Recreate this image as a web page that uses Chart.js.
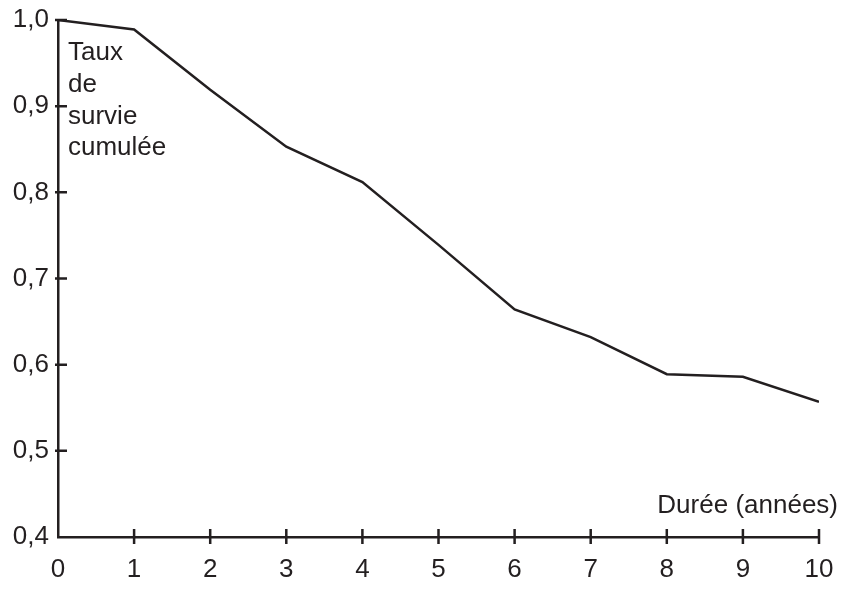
<!DOCTYPE html>
<html>
<head>
<meta charset="utf-8">
<script src="https://cdn.jsdelivr.net/npm/chart.js@4"></script>
<style>
  html, body { margin: 0; padding: 0; background: #fff; }
  #wrap { width: 854px; height: 591px; }
</style>
</head>
<body>
<div id="wrap"><canvas id="chart"></canvas></div>
<script>
const years = [0, 1, 2, 3, 4, 5, 6, 7, 8, 9, 10];
const survival = [1.0, 0.989, 0.919, 0.853, 0.812, 0.739, 0.664, 0.632, 0.589, 0.586, 0.557];
const yTicks = [0.4, 0.5, 0.6, 0.7, 0.8, 0.9, 1.0];
const yTitle = ['Taux', 'de', 'survie', 'cumulée'];
const xTitle = 'Durée (années)';

const ink = '#231f20';
const font = '"Liberation Sans", Arial, Helvetica, sans-serif';

// tick marks: y ticks stick into the plot, x ticks cross the axis
const tickMarks = {
  id: 'tickMarks',
  afterDraw(chart) {
    const ctx = chart.ctx;
    const x = chart.scales.x, y = chart.scales.y;
    ctx.save();
    ctx.strokeStyle = ink;
    ctx.lineWidth = 2.5;
    ctx.beginPath();
    yTicks.forEach(v => {
      if (v === 0.4) return;
      const py = y.getPixelForValue(v);
      ctx.moveTo(x.left - 3, py);
      ctx.lineTo(x.left + 9, py);
    });
    years.forEach(v => {
      if (v === 0) return;
      const px = x.getPixelForValue(v);
      ctx.moveTo(px, y.bottom - 8);
      ctx.lineTo(px, y.bottom + 7);
    });
    ctx.stroke();

    ctx.fillStyle = ink;
    ctx.font = '26px ' + font;
    ctx.textAlign = 'left';
    ctx.textBaseline = 'alphabetic';
    yTitle.forEach((t, i) => ctx.fillText(t, x.left + 10, 60 + i * 31.8));
    ctx.textAlign = 'right';
    ctx.fillText(xTitle, x.right + 19, 513);
    ctx.restore();
  }
};

new Chart(document.getElementById('chart'), {
  type: 'line',
  data: {
    datasets: [{
      data: years.map((yr, i) => ({ x: yr, y: survival[i] })),
      borderColor: ink,
      borderWidth: 2.5,
      pointRadius: 0,
      tension: 0,
      fill: false
    }]
  },
  options: {
    responsive: true,
    maintainAspectRatio: false,
    animation: false,
    layout: { padding: { top: 20, right: 35, bottom: 0, left: 0 } },
    plugins: { legend: { display: false }, tooltip: { enabled: false } },
    scales: {
      x: {
        type: 'linear',
        min: 0,
        max: 10,
        afterFit: s => { s.height = 54; s.paddingLeft = 0; s.paddingRight = 0; },
        afterBuildTicks: s => { s.ticks = years.map(v => ({ value: v })); },
        grid: { display: false, drawTicks: false },
        border: { display: true, color: ink, width: 2.5 },
        ticks: {
          color: ink,
          padding: 17,
          maxRotation: 0,
          font: { family: font, size: 26 },
          callback: v => String(v)
        }
      },
      y: {
        min: 0.4,
        max: 1.0,
        afterFit: s => { s.width = 58; s.paddingTop = 0; s.paddingBottom = 0; },
        afterBuildTicks: s => { s.ticks = yTicks.map(v => ({ value: v })); },
        grid: { display: false, drawTicks: false },
        border: { display: true, color: ink, width: 2.5 },
        ticks: {
          color: ink,
          padding: 9,
          font: { family: font, size: 26 },
          callback: v => v.toFixed(1).replace('.', ',')
        }
      }
    }
  },
  plugins: [tickMarks]
});
</script>
</body>
</html>
